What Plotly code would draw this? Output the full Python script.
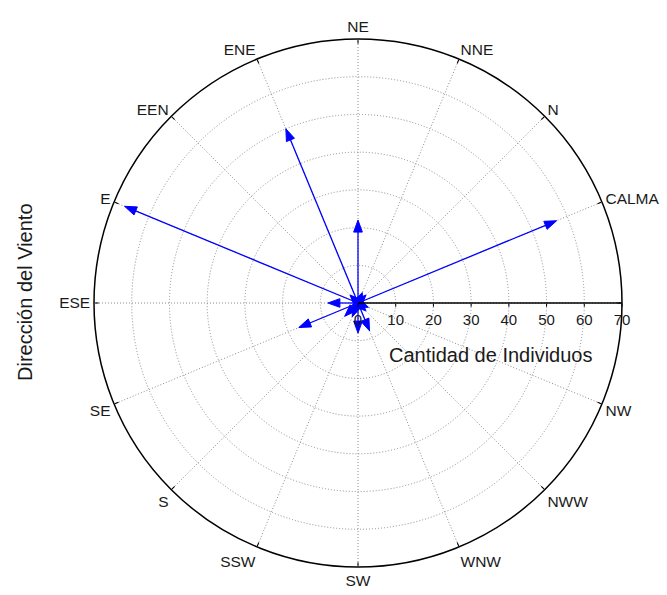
import numpy as np
import plotly.graph_objects as go

# Wind direction labels, counter-clockwise from 22.5 degrees
direction_labels = ["CALMA", "N", "NNE", "NE", "ENE", "EEN", "E", "ESE",
                    "SE", "S", "SSW", "SW", "WNW", "NWW", "NW"]
direction_angles = [22.5, 45, 67.5, 90, 112.5, 135, 157.5, 180,
                    202.5, 225, 247.5, 270, 292.5, 315, 337.5]
# Number of individuals per direction
counts = [57, 3, 3, 22, 50, 3, 67, 8, 17, 5, 4, 8, 8, 3, 3]

radial_ticks = [0, 10, 20, 30, 40, 50, 60, 70]
r_max = 70

ARROW_BLUE = "#0000ff"
HEAD_LEN = 3.2     # arrowhead length, data units
HEAD_HALF = 1.15   # arrowhead half width, data units
GRID = "#8c8c8c"
DOTS = "1px,2px"
TEXT = "#1a1a1a"

fig = go.Figure()


def to_polar(x, y):
    return np.hypot(x, y), np.degrees(np.arctan2(y, x)) % 360


for ang, val in zip(direction_angles, counts):
    t = np.radians(ang)
    ux, uy = np.cos(t), np.sin(t)
    nx, ny = -uy, ux
    tipx, tipy = val * ux, val * uy
    h = min(HEAD_LEN, val * 0.9)
    bx, by = tipx - h * ux, tipy - h * uy
    lx, ly = bx + HEAD_HALF * nx, by + HEAD_HALF * ny
    rx, ry = bx - HEAD_HALF * nx, by - HEAD_HALF * ny
    # shaft
    fig.add_trace(go.Scatterpolar(
        r=[0, val - h * 0.5], theta=[ang, ang], mode="lines",
        line=dict(color=ARROW_BLUE, width=1.3),
        hoverinfo="skip", showlegend=False))
    # head
    hr, ht = to_polar(np.array([tipx, lx, rx, tipx]), np.array([tipy, ly, ry, tipy]))
    fig.add_trace(go.Scatterpolar(
        r=hr, theta=ht, mode="lines", fill="toself",
        fillcolor=ARROW_BLUE, line=dict(color=ARROW_BLUE, width=1),
        hoverinfo="skip", showlegend=False))

tick_vals = [0] + direction_angles
tick_text = [""] + direction_labels

fig.update_layout(
    width=667, height=595,
    margin=dict(l=0, r=0, t=0, b=0),
    paper_bgcolor="white",
    font=dict(family="Liberation Sans, Arial, sans-serif", size=15, color=TEXT),
    polar=dict(
        domain=dict(x=[94 / 667, 622 / 667], y=[1 - 567 / 595, 1 - 39 / 595]),
        bgcolor="white",
        angularaxis=dict(
            direction="counterclockwise", rotation=0,
            tickmode="array", tickvals=tick_vals, ticktext=tick_text,
            showline=True, linecolor="black", linewidth=1.5,
            ticks="inside", ticklen=4, tickcolor="black",
            showgrid=True, gridcolor=GRID, griddash=DOTS, gridwidth=1,
            tickfont=dict(size=15.5, color=TEXT),
        ),
        radialaxis=dict(
            range=[0, r_max], angle=0, tickangle=0,
            tickmode="array", tickvals=radial_ticks,
            showline=True, linecolor="black", linewidth=1.5,
            ticks="outside", ticklen=3, tickcolor="black",
            showgrid=True, gridcolor=GRID, griddash=DOTS, gridwidth=1,
            tickfont=dict(size=15, color=TEXT),
        ),
    ),
    annotations=[
        dict(text="Cantidad de Individuos", x=490 / 667, y=1 - 355 / 595,
             xref="paper", yref="paper", xanchor="center", yanchor="middle",
             showarrow=False, font=dict(size=20, color=TEXT)),
        dict(text="Dirección del Viento", x=25 / 667, y=1 - 292 / 595,
             xref="paper", yref="paper", xanchor="center", yanchor="middle",
             showarrow=False, textangle=-90,
             font=dict(size=20, color=TEXT)),
    ],
)

fig.write_html("out.html")
